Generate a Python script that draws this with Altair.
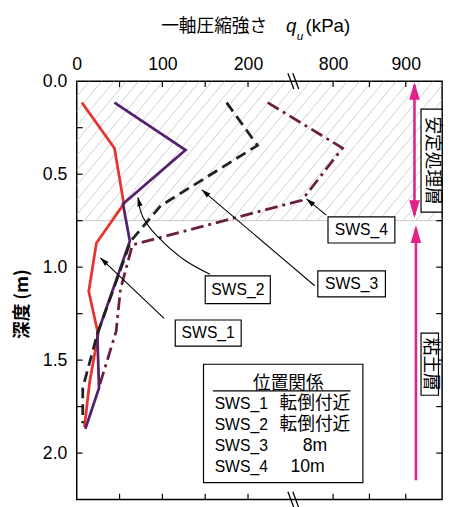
import altair as alt
import pandas as pd

# ---------------- data ----------------
series_names = ["SWS_1", "SWS_2", "SWS_3", "SWS_4"]
series_colors = ["#e8342e", "#55206e", "#222222", "#6a1f42"]
series_dash = [[1, 0], [1, 0], [11, 6], [13, 5, 3, 5]]

depth_1 = [0.115, 0.36, 0.66, 0.87, 1.13, 1.36, 1.62, 1.86]
qu_1 = [6, 44, 55, 23, 14, 25, 15, 9]
depth_2 = [0.115, 0.37, 0.66, 0.86, 1.36, 1.65, 1.87]
qu_2 = [44, 127, 54, 62, 24, 26, 10]
depth_3 = [0.115, 0.345, 0.67, 0.86, 1.36, 1.65, 1.84]
qu_3 = [175, 211, 98, 63, 24, 7, 7]
depth_4 = [0.115, 0.36, 0.64, 0.88, 1.12, 1.345, 1.645]
qu_4 = [223, 813, 757, 65, 51, 46, 26]

# axis
x_domain = [0, 250, 750, 950]          # broken axis 250 -> 750
x_break = 500
x_label_values = [0, 100, 200, 800, 900]
x_tick_values = [50, 100, 150, 200, 800, 850, 900]
y_max = 2.25
y_label_values = [0.0, 0.5, 1.0, 1.5, 2.0]
y_tick_values = [0.25, 0.5, 0.75, 1.0, 1.25, 1.5, 1.75, 2.0]
treated_depth = 0.75

# annotation boxes (SWS labels)
box_label = ["SWS_1", "SWS_2", "SWS_3", "SWS_4"]
box_q0 = [115, 150, 779, 793]
box_q1 = [192, 226, 872, 885]
box_d0 = [1.284, 1.047, 1.02, 0.73]
box_d1 = [1.425, 1.196, 1.16, 0.87]

# straight leader arrows (SWS_1, SWS_3, SWS_4)
arr_tail_q = [102, 774.7, 790.5]
arr_tail_d = [1.275, 1.10, 0.72]
arr_tip_q = [27.5, 146, 763.5]
arr_tip_d = [0.95, 0.584, 0.633]
arr_angle = [313, 310, 310]
# curved leader (SWS_2)
curve_q = [155.5, 125, 94.4, 77.2, 71.4]
curve_d = [1.038, 0.959, 0.836, 0.73, 0.625]
curve_tip_angle = 346

# legend table
legend_title = "位置関係"
legend_names = ["SWS_1", "SWS_2", "SWS_3", "SWS_4"]
legend_pos = ["転倒付近", "転倒付近", "8m", "10m"]
legend_row_d = [1.736, 1.847, 1.961, 2.076]
legend_pos_q = [775, 775, 775, 765]

# layer labels
layer_labels = ["安定処理層", "粘土層"]

# ---------------- build ----------------
LAT = "Liberation Sans"
CJK = "Noto Sans CJK JP"
MIX = "Liberation Sans, Noto Sans CJK JP"
W, H = 372, 426

rows = []
for name, ds, qs in zip(series_names, [depth_1, depth_2, depth_3, depth_4],
                        [qu_1, qu_2, qu_3, qu_4]):
    for i, (d, q) in enumerate(zip(ds, qs)):
        rows.append(dict(series=name, idx=i, depth=d, qu=q))
df = pd.DataFrame(rows)

xs = alt.Scale(domain=x_domain, range=[0, 218, 224, W], nice=False, zero=False)
ys = alt.Scale(domain=[0, y_max], reverse=True, nice=False, zero=False)
xaxis = alt.Axis(orient="top", values=x_label_values, title=None, ticks=False,
                 tickSize=0, domain=False, grid=False, labelFontSize=18,
                 labelFont=LAT, labelColor="black", labelPadding=8,
                 labelFlush=False, labelOverlap=False)
yaxis = alt.Axis(orient="left", values=y_label_values, format=".1f", title=None,
                 ticks=False, tickSize=0, domain=False, grid=False,
                 labelFontSize=18, labelFont=LAT, labelColor="black",
                 labelPadding=10, labelFlush=False, labelOverlap=False)


def X(f):
    return alt.X(f, type="quantitative", scale=xs, axis=xaxis)


def Y(f):
    return alt.Y(f, type="quantitative", scale=ys, axis=yaxis)


# hatch (pixel-space independent x scale)
hatch = alt.Chart(alt.sequence(-130, 372, 12.5, as_="i")).transform_calculate(
    i2="datum.i + 118"
).mark_rule(color="#c4c4c4", strokeWidth=0.8, clip=True).encode(
    x=alt.X("i:Q", scale=alt.Scale(domain=[0, W], nice=False, zero=False), axis=None),
    x2="i2:Q",
    y=alt.datum(treated_depth, scale=ys, axis=yaxis),
    y2=alt.datum(0),
)

base_df = pd.DataFrame({"d": [treated_depth]})
boundary = alt.Chart(base_df).mark_rule(color="#bdbdbd", strokeWidth=0.8).encode(
    y=Y("d"), x=alt.value(0), x2=alt.value(W))

lines = alt.Chart(df).mark_line(strokeWidth=2.8, strokeCap="butt").encode(
    x=X("qu"), y=Y("depth"),
    color=alt.Color("series:N", scale=alt.Scale(domain=series_names, range=series_colors), legend=None),
    strokeDash=alt.StrokeDash("series:N", scale=alt.Scale(domain=series_names, range=series_dash), legend=None),
    order="idx:Q",
)

# ticks inside frame
yt = pd.DataFrame({"d": y_tick_values})
xt = pd.DataFrame({"q": x_tick_values})
tick_l = alt.Chart(yt).mark_rule(color="black", strokeWidth=1.2).encode(
    y=Y("d"), x=alt.value(0), x2=alt.value(6))
tick_r = alt.Chart(yt).mark_rule(color="black", strokeWidth=1.2).encode(
    y=Y("d"), x=alt.value(W - 6), x2=alt.value(W))
tick_t = alt.Chart(xt).mark_rule(color="black", strokeWidth=1.2).encode(
    x=X("q"), y=alt.value(0), y2=alt.value(6))
tick_b = alt.Chart(xt).mark_rule(color="black", strokeWidth=1.2).encode(
    x=X("q"), y=alt.value(H - 6), y2=alt.value(H))

# axis break marks "\\" at top and bottom
brk = pd.DataFrame({"q": [x_break, x_break], "d": [0.0, y_max]})
brk_a = alt.Chart(brk).mark_rule(color="black", strokeWidth=1.3, xOffset=-6, x2Offset=0,
                                 yOffset=-8, y2Offset=8).encode(
    x=X("q"), x2="q", y=Y("d"), y2="d")
brk_b = alt.Chart(brk).mark_rule(color="black", strokeWidth=1.3, xOffset=-1, x2Offset=5,
                                 yOffset=-8, y2Offset=8).encode(
    x=X("q"), x2="q", y=Y("d"), y2="d")

# leaders
arr_df = pd.DataFrame({"q0": arr_tail_q, "d0": arr_tail_d, "q1": arr_tip_q,
                       "d1": arr_tip_d, "ang": arr_angle})
leaders = alt.Chart(arr_df).mark_rule(color="black", strokeWidth=1.1).encode(
    x=X("q0"), x2="q1", y=Y("d0"), y2="d1")
heads_df = pd.DataFrame({"q": arr_tip_q + [curve_q[-1]], "d": arr_tip_d + [curve_d[-1]],
                         "ang": arr_angle + [curve_tip_angle]})
ARROW = "M0,0L-0.3,1L0.3,1Z"
heads = alt.Chart(heads_df).mark_point(shape=ARROW, filled=True, color="black",
                                       size=324, opacity=1, strokeWidth=0).encode(
    x=X("q"), y=Y("d"), angle=alt.Angle("ang:Q", scale=None))
curve_df = pd.DataFrame({"q": curve_q, "d": curve_d, "k": list(range(len(curve_q)))})
curve = alt.Chart(curve_df).mark_line(color="black", strokeWidth=1.1,
                                      interpolate="cardinal").encode(
    x=X("q"), y=Y("d"), order="k:Q")

box_df = pd.DataFrame({"label": box_label, "q0": box_q0, "q1": box_q1,
                       "d0": box_d0, "d1": box_d1})
box_df["qc"] = (box_df.q0 + box_df.q1) / 2
box_df["dc"] = (box_df.d0 + box_df.d1) / 2
boxes = alt.Chart(box_df).mark_rect(fill="white", stroke="black", strokeWidth=1.2).encode(
    x=X("q0"), x2="q1", y=Y("d0"), y2="d1")
box_text = alt.Chart(box_df).mark_text(fontSize=16, font=LAT, color="black",
                                       baseline="middle", align="center").encode(
    x=X("qc"), y=Y("dc"), text="label")

# magenta range arrows
MAG = "#e2218a"
mag_df = pd.DataFrame({"q": [912, 914], "d0": [0.02, 0.79], "d1": [0.72, 2.146]})
mag = alt.Chart(mag_df).mark_rule(color=MAG, strokeWidth=2.6).encode(
    x=X("q"), y=Y("d0"), y2="d1")
mag_heads_df = pd.DataFrame({"q": [912, 912, 914], "d": [0.005, 0.735, 0.775],
                             "ang": [0, 180, 0]})
mag_heads = alt.Chart(mag_heads_df).mark_point(shape=ARROW, filled=True, color=MAG,
                                               size=1296, opacity=1, strokeWidth=0).encode(
    x=X("q"), y=Y("d"), angle=alt.Angle("ang:Q", scale=None))

lab_df = pd.DataFrame({"t": layer_labels, "q0": [921, 921], "q1": [950, 945],
                       "d0": [0.15, 1.355], "d1": [0.704, 1.689],
                       "qc": [935.5, 933], "dc": [0.427, 1.522]})
lab_box = alt.Chart(lab_df).mark_rect(fill="white", stroke="black", strokeWidth=1.2).encode(
    x=X("q0"), x2="q1", y=Y("d0"), y2="d1")
lab_text = alt.Chart(lab_df).mark_text(fontSize=18, font=CJK, color="black", angle=90,
                                       baseline="middle", align="center").encode(
    x=X("qc"), y=Y("dc"), text="t")

# legend table
leg_box_df = pd.DataFrame({"q0": [148], "q1": [841], "d0": [1.522], "d1": [2.159]})
leg_box = alt.Chart(leg_box_df).mark_rect(fill="white", stroke="black", strokeWidth=1.2).encode(
    x=X("q0"), x2="q1", y=Y("d0"), y2="d1")
leg_title_df = pd.DataFrame({"t": [legend_title], "q": [247], "d": [1.627]})
leg_title = alt.Chart(leg_title_df).mark_text(fontSize=18, font=CJK, color="black",
                                              baseline="middle", align="center").encode(
    x=X("q"), y=Y("d"), text="t")
leg_line_df = pd.DataFrame({"q0": [159], "q1": [824], "d": [1.665]})
leg_line = alt.Chart(leg_line_df).mark_rule(color="black", strokeWidth=1.2).encode(
    x=X("q0"), x2="q1", y=Y("d"))
leg_rows_df = pd.DataFrame({"n": legend_names, "p": legend_pos, "d": legend_row_d,
                            "qn": [161] * 4, "qp": legend_pos_q})
leg_names = alt.Chart(leg_rows_df).mark_text(fontSize=16, font=LAT, color="black",
                                             baseline="middle", align="left").encode(
    x=X("qn"), y=Y("d"), text="n")
leg_pos = alt.Chart(leg_rows_df).mark_text(fontSize=18, font=MIX, color="black",
                                           baseline="middle", align="center").encode(
    x=X("qp"), y=Y("d"), text="p")

# axis titles (composed for italic q with subscript u)
one = pd.DataFrame({"k": [0]})
t1 = alt.Chart(one).mark_text(text="一軸圧縮強さ", fontSize=18, font=CJK, color="black",
                              align="left", baseline="alphabetic").encode(
    x=alt.value(86), y=alt.value(-50))
t2 = alt.Chart(one).mark_text(text="q", fontSize=19, font=LAT, fontStyle="italic",
                              color="black", align="left", baseline="alphabetic").encode(
    x=alt.value(213), y=alt.value(-50))
t3 = alt.Chart(one).mark_text(text="u", fontSize=12, font=LAT, fontStyle="italic",
                              color="black", align="left", baseline="alphabetic").encode(
    x=alt.value(224), y=alt.value(-42))
t4 = alt.Chart(one).mark_text(text="(kPa)", fontSize=19, font=LAT, color="black",
                              align="left", baseline="alphabetic").encode(
    x=alt.value(233), y=alt.value(-50))
ytitle = alt.Chart(one).mark_text(text="深度 (m)", fontSize=18, font=CJK, fontWeight="bold",
                                  color="black", angle=270, align="center",
                                  baseline="middle").encode(
    x=alt.value(-55), y=alt.value(227))

main = alt.layer(boundary, lines, tick_l, tick_r, tick_t, tick_b, brk_a, brk_b,
                 leaders, curve, heads, boxes, box_text, mag, mag_heads,
                 lab_box, lab_text, leg_box, leg_title, leg_line, leg_names,
                 leg_pos, t1, t2, t3, t4, ytitle)

chart = alt.layer(hatch, main).resolve_scale(x="independent").properties(
    width=W, height=H,
    autosize=alt.AutoSizeParams(type="none"),
    padding={"left": 70, "top": 70, "right": 6, "bottom": 3},
    background="white",
).configure_view(stroke="black", strokeWidth=1.5)

chart.save("out.html", embed_options={"renderer": "svg", "actions": False})
